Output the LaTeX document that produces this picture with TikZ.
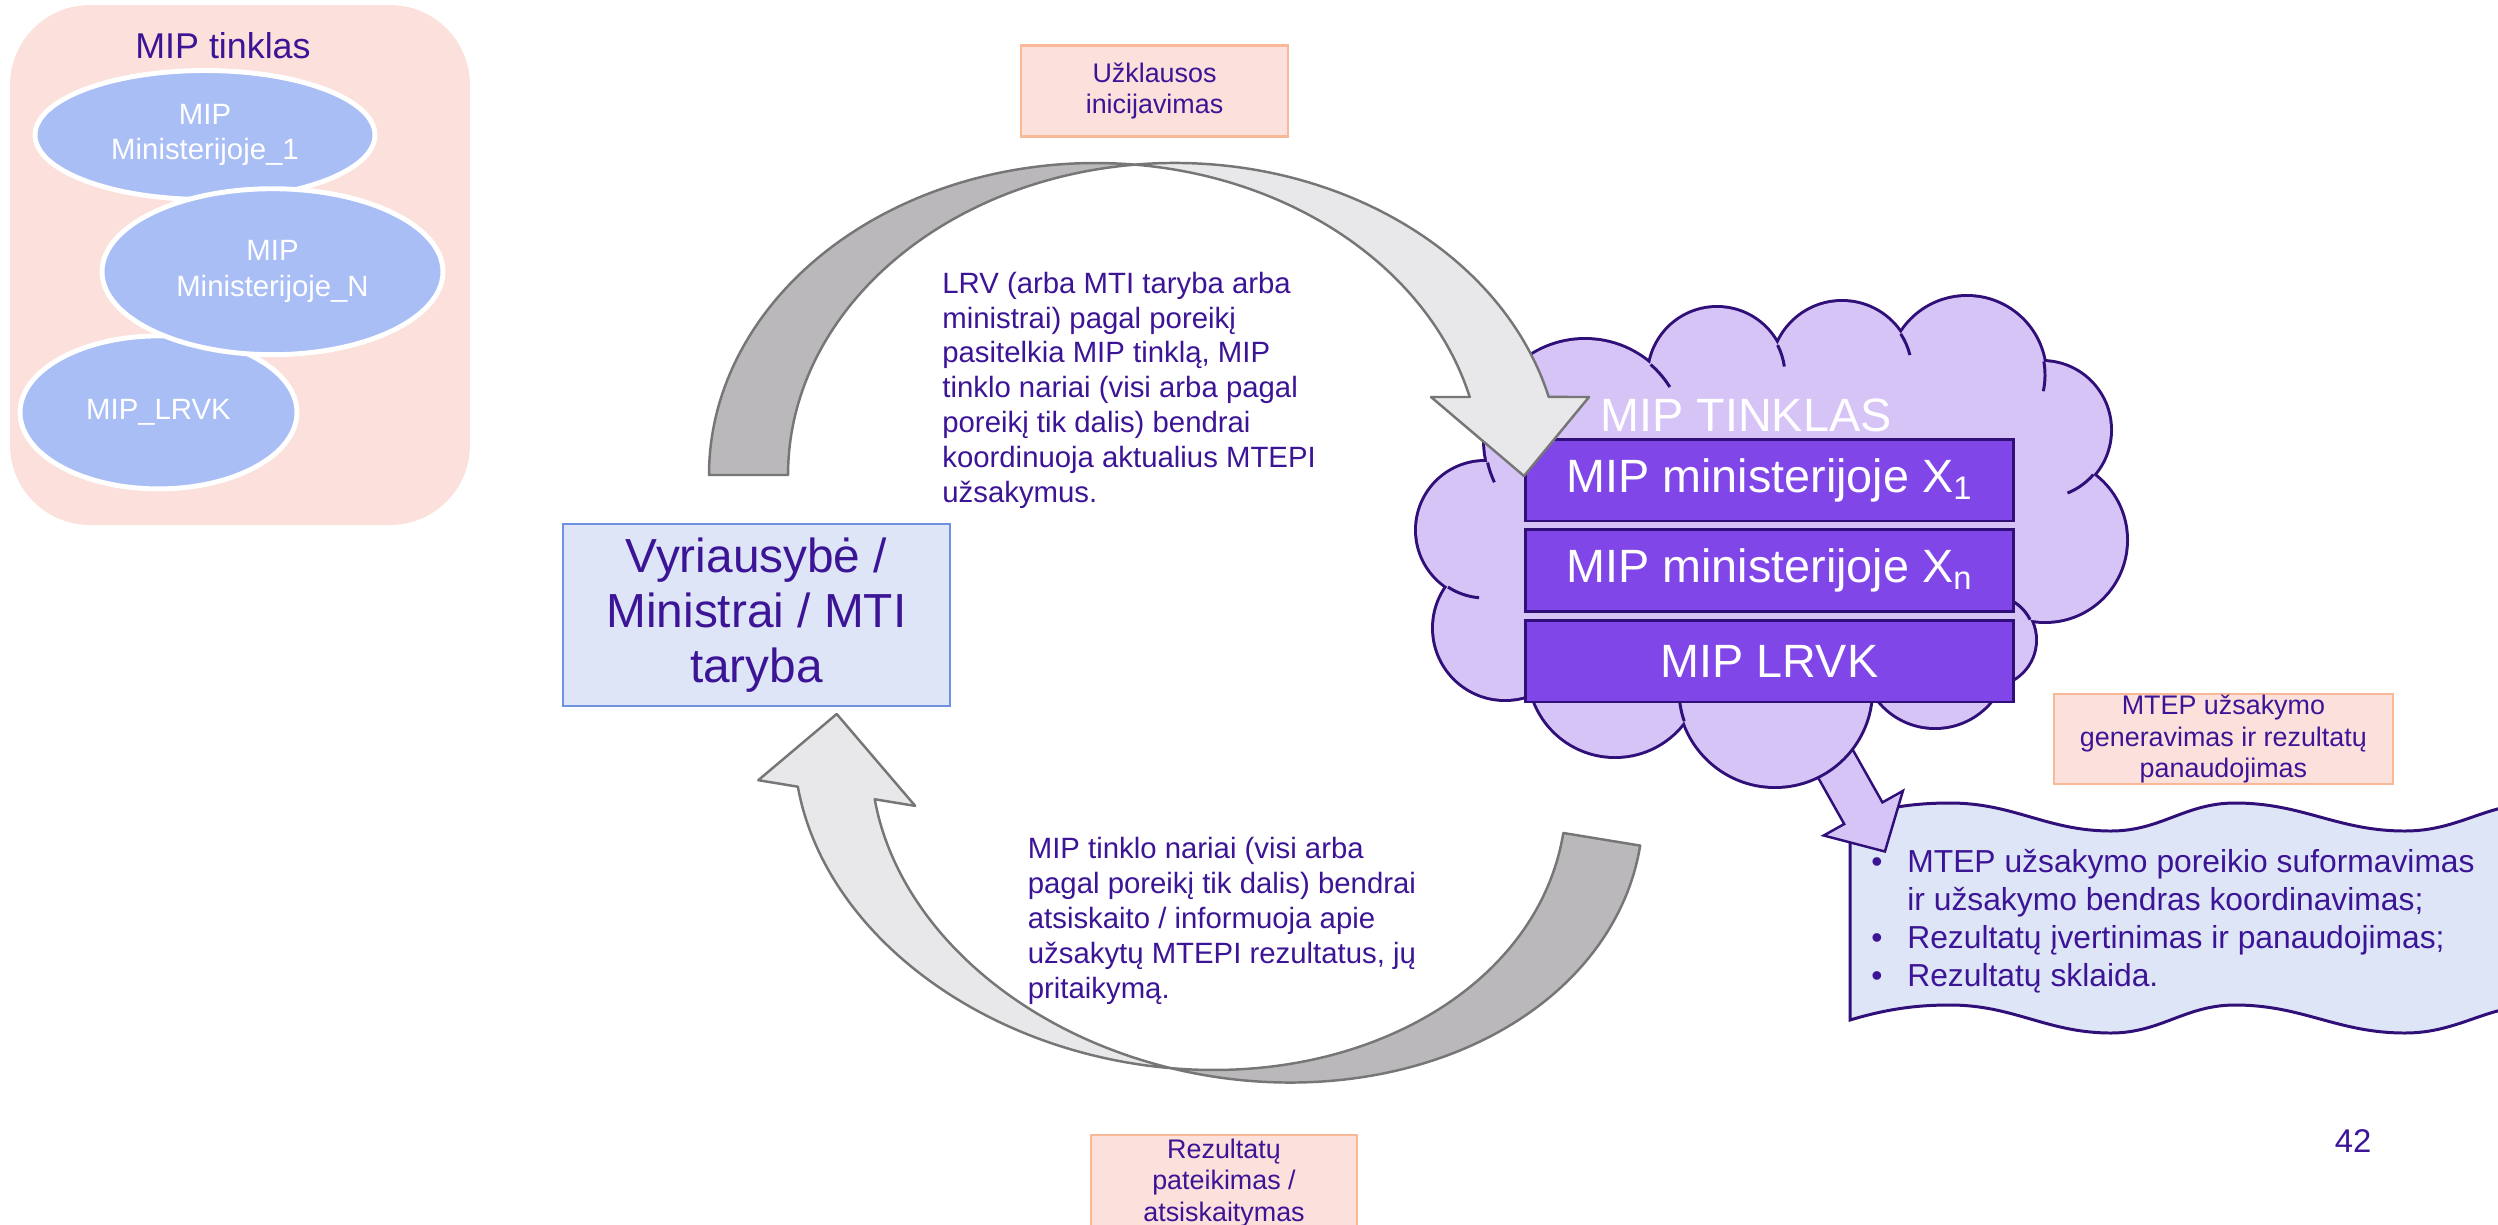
\documentclass[tikz,border=0pt]{standalone}
\usepackage{fontspec}
\setmainfont{Liberation Sans}
\usepackage{xcolor}
\usepackage{tikz}
\usetikzlibrary{shapes,arrows,positioning}

\definecolor{inkviolet}{RGB}{60,20,150}
\definecolor{cloudfill}{RGB}{214,196,247}
\definecolor{cloudline}{RGB}{48,16,120}
\definecolor{boxviolet}{RGB}{128,70,232}
\definecolor{paleblue}{RGB}{222,229,247}
\definecolor{govline}{RGB}{110,145,225}
\definecolor{palepink}{RGB}{251,224,219}
\definecolor{pinkline}{RGB}{250,185,150}
\definecolor{ellblue}{RGB}{169,190,245}
\definecolor{banddark}{RGB}{186,184,187}
\definecolor{bandlight}{RGB}{232,231,233}
\definecolor{bandline}{RGB}{118,118,118}

\tikzset{
    stagebox/.style={draw=pinkline, line width=1.4pt, fill=palepink, text=inkviolet,
        align=center, inner sep=0pt, font=\fontsize{15.3}{18}\selectfont},
    mipell/.style={ellipse, draw=white, line width=2.8pt, fill=ellblue, text=white,
        align=center, inner sep=0pt, font=\fontsize{16.7}{20.4}\selectfont},
    mipbar/.style={draw=cloudline, line width=1.7pt, fill=boxviolet, text=white,
        minimum width=9.76cm, minimum height=1.64cm, inner sep=0pt,
        font=\fontsize{26.6}{30}\selectfont},
    bodytext/.style={text=inkviolet, align=left, inner sep=0pt, anchor=base west,
        font=\fontsize{16.7}{19.8}\selectfont},
    bandback/.style={fill=banddark, draw=bandline, line width=1.4pt, line join=round},
    bandfront/.style={fill=bandlight, draw=bandline, line width=1.4pt, line join=round}
}

\def\cloudpuffs{1585/440/100, 1485/530/68, 1505/628/71, 1615/670/86, 1775/690/96,
    1935/655/72, 1990/640/45, 2045/540/81, 2042/430/68, 1967/375/78, 1842/372/70, 1717/376/68}
\def\cloudseams{1585/440/100/167/155, 1485/530/68/123/95, 1775/690/96/161/176,
    2042/430/68/41/68, 1967/375/78/-10/12, 1842/372/70/-33/-14,
    1717/376/68/-27/-8, 1585/440/100/-49/-32, 1990/640/45/-27/-75}

\begin{document}
\begin{tikzpicture}[x=0.02cm, y=-0.02cm]
                \path[use as bounding box, fill=white] (0,0) rectangle (2498,1224);
                \clip (0,0) rectangle (2498,1224);

                \node[
                    fill=palepink,
                    rounded corners=1.6cm,
                    minimum width=9.2cm,
                    minimum height=10.4cm,
                    inner sep=0pt
                ] (panel) at (240,265) {};
                \node[text=inkviolet, anchor=base, font=\fontsize{20.4}{24}\selectfont]
                    (paneltitle) at (223,58) {MIP tinklas};
                \node[mipell, minimum width=6.8cm, minimum height=2.58cm]
                    (mipone) at (205,135) {MIP\\Ministerijoje\_1};
                \node[mipell, minimum width=5.54cm, minimum height=3.06cm]
                    (miplrvk) at (158.5,412.4) {MIP\_LRVK};
                \node[mipell, minimum width=6.82cm, minimum height=3.32cm]
                    (mipn) at (272.5,271.7) {MIP\\Ministerijoje\_N};

                \node[stagebox, minimum width=5.34cm, minimum height=1.82cm]
                    (request) at (1154.5,91) {Užklausos\\inicijavimas};

                \draw[
                    fill=paleblue,
                    draw=cloudline,
                    line width=1.7pt
                ] (1850,818) .. controls (1890,806) and (1920,803) .. (1950,803)
                    .. controls (2014,803) and (2047,831) .. (2111,831)
                    .. controls (2161,831) and (2185,803) .. (2235,803)
                    .. controls (2303,803) and (2337,831) .. (2405,831)
                    .. controls (2459,831) and (2486,803) .. (2540,803)
                    -- (2600,803) -- (2600,1005) -- (2540,1005)
                    .. controls (2486,1005) and (2459,1033) .. (2405,1033)
                    .. controls (2337,1033) and (2303,1005) .. (2235,1005)
                    .. controls (2185,1005) and (2161,1033) .. (2111,1033)
                    .. controls (2047,1033) and (2014,1005) .. (1950,1005)
                    .. controls (1920,1005) and (1890,1008) .. (1850,1020) -- cycle;
                \node[bodytext, font=\fontsize{18.1}{21.7}\selectfont] (tasks) at (1871,986.6)
                    {\makebox[0.72cm][l]{\textbullet}MTEP užsakymo poreikio suformavimas\\
                     \hspace*{0.72cm}ir užsakymo bendras koordinavimas;\\
                     \makebox[0.72cm][l]{\textbullet}Rezultatų įvertinimas ir panaudojimas;\\
                     \makebox[0.72cm][l]{\textbullet}Rezultatų sklaida.};

                \draw[
                    fill=cloudfill,
                    draw=cloudline,
                    line width=1.4pt
                ] (1828.5,706.7) -- (1882.4,802.4) -- (1902.9,790.9) -- (1884.9,851.5)
                    -- (1823.7,835.5) -- (1844.2,824) -- (1790.3,728.3) -- cycle;

                \foreach \cx/\cy/\r in \cloudpuffs
                    \draw[cloudline, line width=3.4pt] (\cx,\cy) circle[radius=\r];
                \foreach \cx/\cy/\r in \cloudpuffs
                    \fill[cloudfill] (\cx,\cy) circle[radius=\r];
                \fill[cloudfill] (1770,540) ellipse[x radius=260, y radius=170];
                \foreach \cx/\cy/\r/\ta/\tb in \cloudseams
                    \draw[cloudline, line width=1.7pt] (\cx,\cy) ++(\ta:\r)
                        arc[start angle=\ta, end angle=\tb, radius=\r];

                \node[text=white, anchor=base, font=\fontsize{26.6}{30}\selectfont]
                    (cloudtitle) at (1746,431) {MIP TINKLAS};
                \node[mipbar] (mipxone) at (1769.5,480) {MIP ministerijoje X\textsubscript{1}};
                \node[mipbar] (mipxn) at (1769.5,570.5) {MIP ministerijoje X\textsubscript{n}};
                \node[mipbar] (mipbarlrvk) at (1769.5,661) {MIP LRVK};

                \filldraw[bandback] (709,475)
                    arc[start angle=180, end angle=275.87, x radius=386.5, y radius=312]
                    arc[start angle=264.13, end angle=180, x radius=386.5, y radius=312] -- cycle;
                \filldraw[bandfront] (1135,164.6)
                    arc[start angle=264.13, end angle=345.52, x radius=386.5, y radius=312]
                    -- (1589,397) -- (1524,476) -- (1431,397) -- (1469.7,397)
                    arc[start angle=345.52, end angle=275.87, x radius=386.5, y radius=312] -- cycle;

                \begin{scope}[rotate around={-9.3:(836.7,714)}]
                    \filldraw[bandback] (1573,714)
                        arc[start angle=0, end angle=84.24, x radius=388.3, y radius=297]
                        arc[start angle=95.76, end angle=0, x radius=388.3, y radius=297] -- cycle;
                    \filldraw[bandfront] (1223.7,1009.5)
                        arc[start angle=84.24, end angle=164.77, x radius=388.3, y radius=297]
                        -- (770,792) -- (836.7,714) -- (929,792) -- (888,792)
                        arc[start angle=164.77, end angle=95.76, x radius=388.3, y radius=297] -- cycle;
                \end{scope}

                \node[
                    draw=govline,
                    line width=1.4pt,
                    fill=paleblue,
                    text=inkviolet,
                    align=center,
                    minimum width=7.74cm,
                    minimum height=3.64cm,
                    inner sep=0pt,
                    font=\fontsize{27.2}{31.5}\selectfont
                ] (gov) at (756.5,615) {Vyriausybė /\\Ministrai / MTI\\taryba};

                \node[bodytext] (asktext) at (942,502)
                    {LRV (arba MTI taryba arba\\ministrai) pagal poreikį\\pasitelkia MIP tinklą, MIP\\tinklo nariai (visi arba pagal\\poreikį tik dalis) bendrai\\koordinuoja aktualius MTEPI\\užsakymus.};
                \node[bodytext] (reporttext) at (1027.5,998)
                    {MIP tinklo nariai (visi arba\\pagal poreikį tik dalis) bendrai\\atsiskaito / informuoja apie\\užsakytų MTEPI rezultatus, jų\\pritaikymą.};

                \node[stagebox, minimum width=6.78cm, minimum height=1.8cm]
                    (usage) at (2223.4,739) {MTEP užsakymo\\generavimas ir rezultatų\\panaudojimas};
                \node[stagebox, minimum width=5.33cm, minimum height=1.9cm, anchor=north]
                    (report) at (1224,1134) {Rezultatų\\pateikimas /\\atsiskaitymas};

                \node[text=inkviolet, anchor=base, font=\fontsize{18.7}{22}\selectfont]
                    (pagenum) at (2353,1152) {42};
\end{tikzpicture}
\end{document}
